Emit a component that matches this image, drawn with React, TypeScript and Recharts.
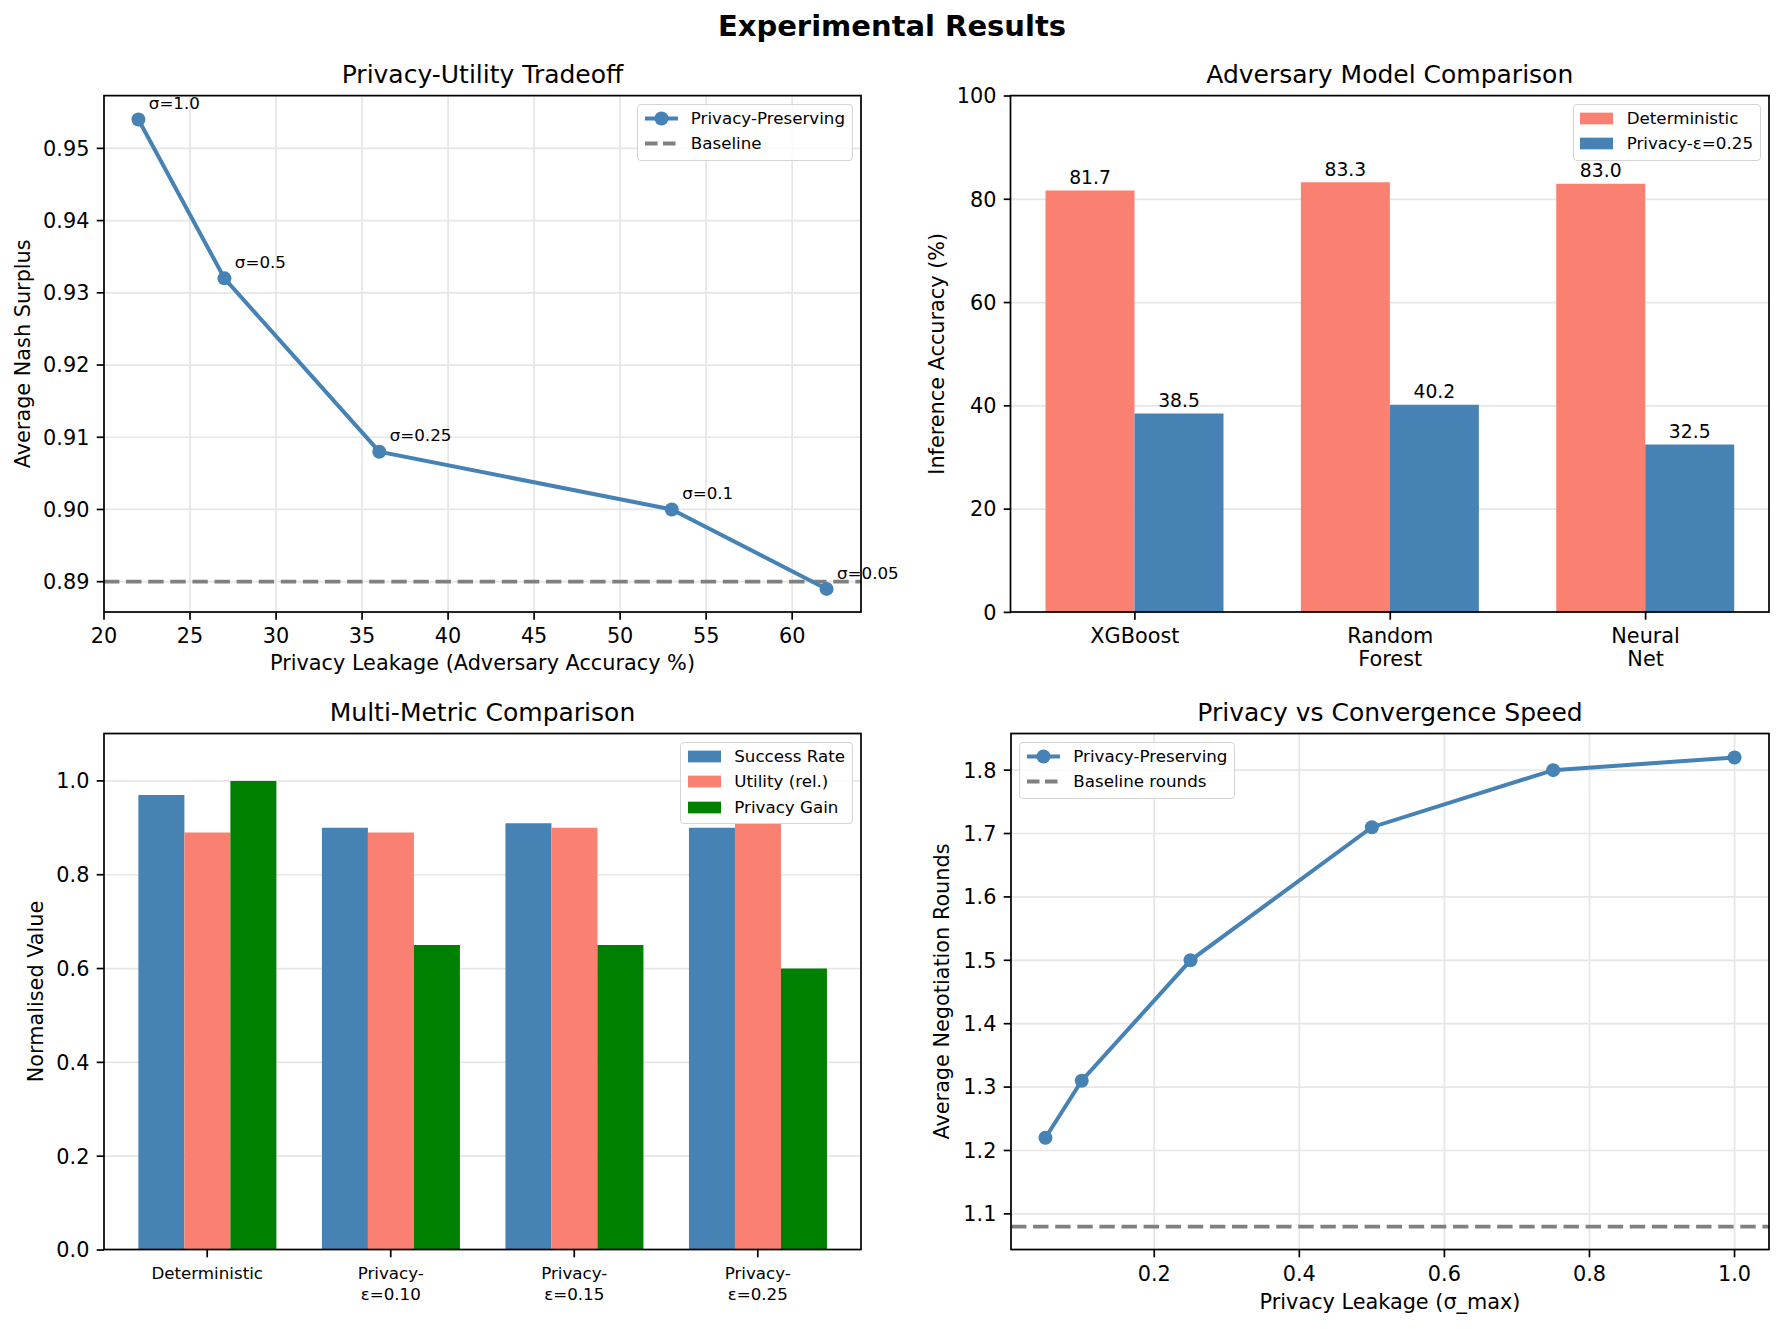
import React from 'react';
import {
  LineChart,
  Line,
  BarChart,
  Bar,
  XAxis,
  YAxis,
  CartesianGrid,
  ReferenceLine,
  LabelList,
} from 'recharts';

const FONT = '"DejaVu Sans", "Liberation Sans", sans-serif';
const BLUE = '#4682B4';
const SALMON = '#FA8072';
const GREEN = '#008000';
const GRAY = '#808080';
const GRID = '#e6e6e6';
const TICK_FS = 20.8;
const SMALL_FS = 16.7;

// Privacy-utility tradeoff
const tradeoffLeakage = [22, 27, 36, 53, 62];
const tradeoffSurplus = [0.954, 0.932, 0.908, 0.9, 0.889];
const tradeoffSigma = ['σ=1.0', 'σ=0.5', 'σ=0.25', 'σ=0.1', 'σ=0.05'];
const tradeoffBaseline = 0.89;
const tradeoffXTicks = [20, 25, 30, 35, 40, 45, 50, 55, 60];
const tradeoffYTicks = [0.89, 0.9, 0.91, 0.92, 0.93, 0.94, 0.95];

// Adversary model comparison
const adversaryModels = ['XGBoost', 'Random\nForest', 'Neural\nNet'];
const adversaryDeterministic = [81.7, 83.3, 83.0];
const adversaryPrivacy = [38.5, 40.2, 32.5];
const adversaryYTicks = [0, 20, 40, 60, 80, 100];

// Multi-metric comparison
const metricGroups = ['Deterministic', 'Privacy-\nε=0.10', 'Privacy-\nε=0.15', 'Privacy-\nε=0.25'];
const successRate = [0.97, 0.9, 0.91, 0.9];
const utilityRel = [0.89, 0.89, 0.9, 0.91];
const privacyGain = [1.0, 0.65, 0.65, 0.6];
const metricYTicks = [0, 0.2, 0.4, 0.6, 0.8, 1.0];

// Privacy vs convergence speed
const sigmaMax = [0.05, 0.1, 0.25, 0.5, 0.75, 1.0];
const negotiationRounds = [1.22, 1.31, 1.5, 1.71, 1.8, 1.82];
const roundsBaseline = 1.08;
const convXTicks = [0.2, 0.4, 0.6, 0.8, 1.0];
const convYTicks = [1.1, 1.2, 1.3, 1.4, 1.5, 1.6, 1.7, 1.8];

const tradeoffData = tradeoffLeakage.map((x, i) => ({
  leak: x,
  surplus: tradeoffSurplus[i],
  sigma: tradeoffSigma[i],
}));
const adversaryData = adversaryModels.map((m, i) => ({
  model: m,
  det: adversaryDeterministic[i],
  priv: adversaryPrivacy[i],
}));
const metricData = metricGroups.map((g, i) => ({
  group: g,
  success: successRate[i],
  utility: utilityRel[i],
  gain: privacyGain[i],
}));
const convData = sigmaMax.map((s, i) => ({ sigma: s, rounds: negotiationRounds[i] }));

// Plot-area rectangles of the four panels (page pixels)
const PANELS = {
  tl: { L: 104, R: 861, T: 95.6, B: 612 },
  tr: { L: 1010.5, R: 1769, T: 95.6, B: 612 },
  bl: { L: 104, R: 861, T: 733.5, B: 1249.5 },
  br: { L: 1011, R: 1769, T: 733.5, B: 1249.5 },
};

const YW = 100;
const XH = 70;
const MT = 20;

type Panel = { L: number; R: number; T: number; B: number };

function frameFor(p: Panel, mr: number) {
  return {
    style: { position: 'absolute' as const, left: p.L - YW, top: p.T - MT, fontFamily: FONT },
    width: p.R - p.L + YW + mr,
    height: p.B - p.T + MT + XH,
    margin: { top: MT, right: mr, bottom: 0, left: 0 },
  };
}

const tickLineStyle = { stroke: '#000', strokeWidth: 1.7 };
const yTickStyle = { fill: '#000', fontSize: TICK_FS, fontFamily: FONT };

function XTick(props: any) {
  const { x, y, payload, fontSize = TICK_FS, first = 23.4, lh = 23, fmt } = props;
  const label = fmt ? fmt(payload.value) : String(payload.value);
  const lines = label.split('\n');
  return (
    <text x={x} y={y + first} textAnchor="middle" fill="#000" fontSize={fontSize} fontFamily={FONT}>
      {lines.map((l: string, i: number) => (
        <tspan key={i} x={x} dy={i === 0 ? 0 : lh}>
          {l}
        </tspan>
      ))}
    </text>
  );
}

function SigmaLabel(props: any) {
  const x = props.x ?? props.viewBox?.x;
  const y = props.y ?? props.viewBox?.y;
  if (x == null || y == null) return null;
  return (
    <text x={x + 10.4} y={y - 10.4} fill="#000" fontSize={SMALL_FS} fontFamily={FONT}>
      {props.value}
    </text>
  );
}

type LegendItem = { label: string; kind: 'lineMarker' | 'dash' | 'patch'; color: string };

function Handle({ kind, color }: { kind: LegendItem['kind']; color: string }) {
  return (
    <svg width={33} height={19} style={{ display: 'block', flex: 'none' }}>
      {kind === 'lineMarker' && (
        <>
          <line x1={0} y1={9.5} x2={33} y2={9.5} stroke={color} strokeWidth={4} />
          <circle cx={16.5} cy={9.5} r={7} fill={color} />
        </>
      )}
      {kind === 'dash' && (
        <line x1={0} y1={9.5} x2={33} y2={9.5} stroke={color} strokeWidth={3.8} strokeDasharray="12.5 5.5" />
      )}
      {kind === 'patch' && <rect x={0} y={3.65} width={33} height={11.7} fill={color} />}
    </svg>
  );
}

function LegendBox({
  items,
  top,
  left,
  right,
}: {
  items: LegendItem[];
  top: number;
  left?: number;
  right?: number;
}) {
  const pos: React.CSSProperties = { position: 'absolute', top };
  if (left != null) pos.left = left;
  if (right != null) pos.right = 1784 - right;
  return (
    <div
      style={{
        ...pos,
        boxSizing: 'border-box',
        padding: '4px 6.7px 6.5px 6.7px',
        border: '1.4px solid #d4d4d4',
        borderRadius: 4,
        background: 'rgba(255,255,255,0.8)',
        fontFamily: FONT,
        fontSize: SMALL_FS,
        lineHeight: '19px',
        color: '#000',
        whiteSpace: 'nowrap',
      }}
    >
      {items.map((it, i) => (
        <div
          key={it.label}
          style={{ display: 'flex', alignItems: 'center', gap: 13.3, marginTop: i === 0 ? 0 : 6.6 }}
        >
          <Handle kind={it.kind} color={it.color} />
          <span>{it.label}</span>
        </div>
      ))}
    </div>
  );
}

function TradeoffChart() {
  const p = PANELS.tl;
  return (
    <LineChart data={tradeoffData} {...frameFor(p, 50)}>
      <CartesianGrid stroke={GRID} strokeWidth={1.7} />
      <XAxis
        dataKey="leak"
        type="number"
        domain={[20, 64]}
        ticks={tradeoffXTicks}
        interval={0}
        allowDataOverflow
        axisLine={false}
        tickLine={tickLineStyle}
        tickSize={7.3}
        tickMargin={0}
        height={XH}
        tick={(tp: any) => <XTick {...tp} />}
      />
      <YAxis
        type="number"
        domain={[0.88575, 0.95725]}
        ticks={tradeoffYTicks}
        interval={0}
        allowDataOverflow
        axisLine={false}
        tickLine={tickLineStyle}
        tickSize={7.3}
        tickMargin={7.3}
        width={YW}
        tick={yTickStyle}
        tickFormatter={(v: number) => v.toFixed(2)}
      />
      <ReferenceLine y={tradeoffBaseline} stroke={GRAY} strokeWidth={3.8} strokeDasharray="15.4 6.7" />
      <Line
        type="linear"
        dataKey="surplus"
        stroke={BLUE}
        strokeWidth={4}
        dot={{ r: 7, fill: BLUE, stroke: 'none' }}
        isAnimationActive={false}
      >
        <LabelList dataKey="sigma" content={(lp: any) => <SigmaLabel {...lp} />} />
      </Line>
    </LineChart>
  );
}

function AdversaryChart() {
  const p = PANELS.tr;
  const labelStyle = { fill: '#000', fontSize: 18.75, fontFamily: FONT };
  return (
    <BarChart data={adversaryData} barGap={0} barCategoryGap="15%" {...frameFor(p, 10)}>
      <CartesianGrid stroke={GRID} strokeWidth={1.7} vertical={false} />
      <XAxis
        dataKey="model"
        type="category"
        padding={{ left: -3.8, right: -3.8 }}
        interval={0}
        axisLine={false}
        tickLine={tickLineStyle}
        tickSize={7.3}
        tickMargin={0}
        height={XH}
        tick={(tp: any) => <XTick {...tp} />}
      />
      <YAxis
        type="number"
        domain={[0, 100]}
        ticks={adversaryYTicks}
        interval={0}
        axisLine={false}
        tickLine={tickLineStyle}
        tickSize={7.3}
        tickMargin={7.3}
        width={YW}
        tick={yTickStyle}
      />
      <Bar dataKey="det" fill={SALMON} isAnimationActive={false}>
        <LabelList
          dataKey="det"
          position="top"
          offset={6.7}
          formatter={(v: any) => Number(v).toFixed(1)}
          style={labelStyle}
        />
      </Bar>
      <Bar dataKey="priv" fill={BLUE} isAnimationActive={false}>
        <LabelList
          dataKey="priv"
          position="top"
          offset={6.7}
          formatter={(v: any) => Number(v).toFixed(1)}
          style={labelStyle}
        />
      </Bar>
    </BarChart>
  );
}

function MetricChart() {
  const p = PANELS.bl;
  return (
    <BarChart data={metricData} barGap={0} barCategoryGap="12.5%" {...frameFor(p, 10)}>
      <CartesianGrid stroke={GRID} strokeWidth={1.7} vertical={false} />
      <XAxis
        dataKey="group"
        type="category"
        padding={{ left: 11.45, right: 11.45 }}
        interval={0}
        axisLine={false}
        tickLine={tickLineStyle}
        tickSize={7.3}
        tickMargin={0}
        height={XH}
        tick={(tp: any) => <XTick {...tp} fontSize={SMALL_FS} first={21.5} lh={20.7} />}
      />
      <YAxis
        type="number"
        domain={[0, 1.1]}
        ticks={metricYTicks}
        interval={0}
        axisLine={false}
        tickLine={tickLineStyle}
        tickSize={7.3}
        tickMargin={7.3}
        width={YW}
        tick={yTickStyle}
        tickFormatter={(v: number) => v.toFixed(1)}
      />
      <Bar dataKey="success" fill={BLUE} isAnimationActive={false} />
      <Bar dataKey="utility" fill={SALMON} isAnimationActive={false} />
      <Bar dataKey="gain" fill={GREEN} isAnimationActive={false} />
    </BarChart>
  );
}

function ConvergenceChart() {
  const p = PANELS.br;
  return (
    <LineChart data={convData} {...frameFor(p, 10)}>
      <CartesianGrid stroke={GRID} strokeWidth={1.7} />
      <XAxis
        dataKey="sigma"
        type="number"
        domain={[0.0025, 1.0475]}
        ticks={convXTicks}
        interval={0}
        allowDataOverflow
        axisLine={false}
        tickLine={tickLineStyle}
        tickSize={7.3}
        tickMargin={0}
        height={XH}
        tick={(tp: any) => <XTick {...tp} fmt={(v: number) => v.toFixed(1)} />}
      />
      <YAxis
        type="number"
        domain={[1.043, 1.857]}
        ticks={convYTicks}
        interval={0}
        allowDataOverflow
        axisLine={false}
        tickLine={tickLineStyle}
        tickSize={7.3}
        tickMargin={7.3}
        width={YW}
        tick={yTickStyle}
        tickFormatter={(v: number) => v.toFixed(1)}
      />
      <ReferenceLine y={roundsBaseline} stroke={GRAY} strokeWidth={3.8} strokeDasharray="15.4 6.7" />
      <Line
        type="linear"
        dataKey="rounds"
        stroke={BLUE}
        strokeWidth={4}
        dot={{ r: 7, fill: BLUE, stroke: 'none' }}
        isAnimationActive={false}
      />
    </LineChart>
  );
}

function Titles() {
  const t = PANELS;
  const cx = (p: Panel) => (p.L + p.R) / 2;
  const cy = (p: Panel) => (p.T + p.B) / 2;
  const title = (p: Panel, text: string) => (
    <text x={cx(p)} y={p.T - 12.3} textAnchor="middle" fontSize={25} fill="#000">
      {text}
    </text>
  );
  const ylabel = (x: number, p: Panel, text: string) => (
    <text
      x={x}
      y={cy(p)}
      textAnchor="middle"
      dominantBaseline="central"
      fontSize={TICK_FS}
      fill="#000"
      transform={`rotate(-90 ${x} ${cy(p)})`}
    >
      {text}
    </text>
  );
  const frame = (p: Panel) => (
    <rect x={p.L} y={p.T} width={p.R - p.L} height={p.B - p.T} fill="none" stroke="#000" strokeWidth={1.7} />
  );
  return (
    <svg
      width={1784}
      height={1329}
      style={{ position: 'absolute', left: 0, top: 0, pointerEvents: 'none', fontFamily: FONT }}
    >
      {frame(t.tl)}
      {frame(t.tr)}
      {frame(t.bl)}
      {frame(t.br)}
      <text x={892} y={36} textAnchor="middle" fontSize={29} fontWeight="bold" fill="#000">
        Experimental Results
      </text>
      {title(t.tl, 'Privacy-Utility Tradeoff')}
      {title(t.tr, 'Adversary Model Comparison')}
      {title(t.bl, 'Multi-Metric Comparison')}
      {title(t.br, 'Privacy vs Convergence Speed')}
      <text x={cx(t.tl)} y={670} textAnchor="middle" fontSize={TICK_FS} fill="#000">
        Privacy Leakage (Adversary Accuracy %)
      </text>
      <text x={cx(t.br)} y={1308.5} textAnchor="middle" fontSize={TICK_FS} fill="#000">
        Privacy Leakage (σ_max)
      </text>
      {ylabel(23, t.tl, 'Average Nash Surplus')}
      {ylabel(937.5, t.tr, 'Inference Accuracy (%)')}
      {ylabel(36.4, t.bl, 'Normalised Value')}
      {ylabel(942, t.br, 'Average Negotiation Rounds')}
    </svg>
  );
}

export default function App() {
  const t = PANELS;
  return (
    <div
      style={{
        position: 'absolute',
        left: 0,
        top: 0,
        width: 1784,
        height: 1329,
        background: '#fff',
        overflow: 'hidden',
        fontFamily: FONT,
      }}
    >
      <TradeoffChart />
      <AdversaryChart />
      <MetricChart />
      <ConvergenceChart />
      <Titles />
      <LegendBox
        top={t.tl.T + 8.3}
        right={t.tl.R - 8.3}
        items={[
          { label: 'Privacy-Preserving', kind: 'lineMarker', color: BLUE },
          { label: 'Baseline', kind: 'dash', color: GRAY },
        ]}
      />
      <LegendBox
        top={t.tr.T + 8.3}
        right={t.tr.R - 8.3}
        items={[
          { label: 'Deterministic', kind: 'patch', color: SALMON },
          { label: 'Privacy-ε=0.25', kind: 'patch', color: BLUE },
        ]}
      />
      <LegendBox
        top={t.bl.T + 8.3}
        right={t.bl.R - 8.3}
        items={[
          { label: 'Success Rate', kind: 'patch', color: BLUE },
          { label: 'Utility (rel.)', kind: 'patch', color: SALMON },
          { label: 'Privacy Gain', kind: 'patch', color: GREEN },
        ]}
      />
      <LegendBox
        top={t.br.T + 8.3}
        left={t.br.L + 8.3}
        items={[
          { label: 'Privacy-Preserving', kind: 'lineMarker', color: BLUE },
          { label: 'Baseline rounds', kind: 'dash', color: GRAY },
        ]}
      />
    </div>
  );
}
